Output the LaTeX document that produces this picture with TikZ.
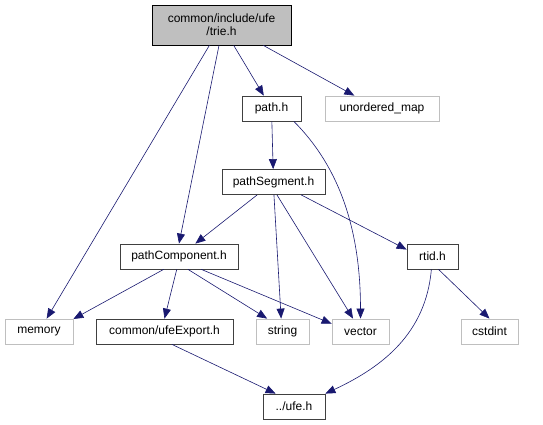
\documentclass[tikz,border=0pt]{standalone}
\usepackage{fontspec}
\setmainfont{Liberation Sans}
\usetikzlibrary{arrows.meta}
\definecolor{edgeblue}{HTML}{191970}
\definecolor{sysgray}{HTML}{BFBFBF}
\definecolor{inkdark}{HTML}{404040}
\tikzset{
  every node/.style={font=\fontsize{12}{14}\selectfont,text=black},
  hdr/.style={draw=inkdark,thick,fill=white,align=center,inner xsep=4pt,inner ysep=0pt,minimum height=25pt},
  root/.style={hdr,fill=sysgray,draw=black},
  sys/.style={draw=sysgray,thick,fill=white,align=center,inner xsep=4pt,inner ysep=0pt,minimum height=25pt},
  dep/.style={-{Triangle[length=10pt,width=8pt,fill=edgeblue]},draw=edgeblue,semithick},
}

\begin{document}
\begin{tikzpicture}[x=1pt,y=-1pt]
\useasboundingbox (0,0) rectangle (543,425);
% top
\node[root,minimum width=139pt,minimum height=40pt,font=\fontsize{12}{13}\selectfont] (trie) at (221.5,25) {common/include/ufe\\/trie.h};
\node[hdr,minimum width=59pt] (path) at (271.5,108.5) {path.h};
\node[sys,minimum width=114pt] (umap) at (382,108.5) {unordered\_map};
\node[hdr,minimum width=103pt] (pseg) at (273.5,182) {pathSegment.h};
% middle
\node[hdr,minimum width=118pt] (pcomp) at (179,256.5) {pathComponent.h};
\node[hdr,minimum width=51pt] (rtid) at (432.5,256.5) {rtid.h};
% bottom row
\node[sys,minimum width=68pt] (memory) at (39,331.5) {memory};
\node[hdr,minimum width=137pt] (export) at (164.5,331.5) {common/ufeExport.h};
\node[sys,minimum width=53pt] (string) at (282.5,331.5) {string};
\node[sys,minimum width=57pt] (vector) at (360.5,331.5) {vector};
\node[sys,minimum width=57pt] (cstdint) at (489.5,331.5) {cstdint};
\node[hdr,minimum width=62pt] (ufe) at (294,406.5) {../ufe.h};

\draw[dep] (trie) -- (memory);
\draw[dep] (trie.-97) -- (pcomp.north);
\draw[dep] (trie) -- (path);
\draw[dep] (trie.-26) -- (umap.155);
\draw[dep] (path) -- (pseg);
\draw[dep] (path.-30) .. controls +(45,45) and +(0,-90) .. (vector.north);
\draw[dep] (pseg) -- (pcomp);
\draw[dep] (pseg.-88) -- (string.96);
\draw[dep] (pseg.-75) -- (vector.120);
\draw[dep] (pseg.-25) -- (rtid.165);
\draw[dep] (pcomp.-140) -- (memory.20);
\draw[dep] (pcomp.-100) -- (export.north);
\draw[dep] (pcomp.-55) -- (string.140);
\draw[dep] (pcomp.-30) -- (vector.165);
\draw[dep] (export.-60) -- (ufe.145);
\draw[dep] (rtid.-95) to[out=-95,in=25] (ufe.north east);
\draw[dep] (rtid.-65) -- (cstdint.north);
\end{tikzpicture}
\end{document}
